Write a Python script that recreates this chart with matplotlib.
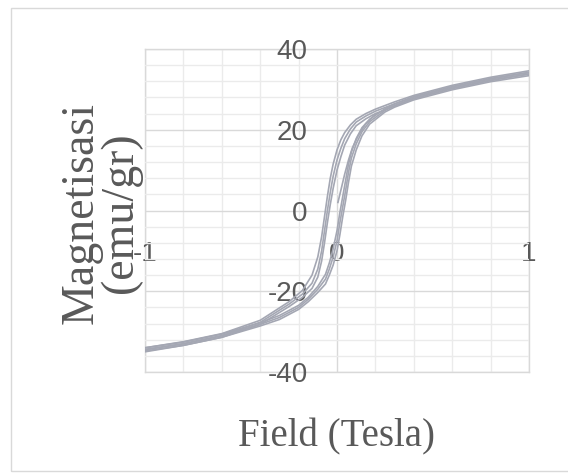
import numpy as np
import matplotlib.pyplot as plt
from matplotlib.patches import Rectangle
from matplotlib.ticker import MultipleLocator

# field grid for the descending branch (1 T -> -1 T)
field_down = [1.0, 0.8, 0.6, 0.4, 0.3, 0.2, 0.15, 0.1, 0.07, 0.04, 0.02, 0.0, -0.02,
              -0.035, -0.05, -0.065, -0.08, -0.1, -0.13, -0.18, -0.25, -0.4, -0.6, -0.8, -1.0]
mag_down_1 = [34.6, 33.0, 31.0, 28.5, 26.9, 25.1, 24.0, 22.6, 21.2, 19.3, 17.5, 15.0, 11.5,
              8.0, 3.5, -1.5, -6.5, -11.5, -16.0, -19.8, -22.6, -27.2, -30.5, -32.5, -34.0]
mag_down_2 = [34.2, 32.6, 30.6, 28.1, 26.4, 24.6, 23.4, 21.9, 20.2, 17.8, 15.4, 12.5, 8.5,
              4.5, 0.0, -5.0, -10.0, -14.5, -18.0, -20.7, -23.2, -27.7, -31.0, -33.0, -34.4]
mag_down_3 = [33.8, 32.2, 30.2, 27.7, 25.9, 24.0, 22.7, 21.0, 19.0, 16.2, 13.3, 10.0, 5.5,
              1.5, -3.0, -8.0, -12.5, -16.5, -19.3, -21.5, -23.8, -28.2, -31.4, -33.4, -34.8]

# field grid for the ascending branch (-1 T -> 1 T)
field_up = [-1.0, -0.8, -0.6, -0.4, -0.3, -0.2, -0.15, -0.1, -0.06, -0.04, -0.02, 0.0, 0.015,
            0.03, 0.045, 0.06, 0.075, 0.1, 0.13, 0.17, 0.25, 0.3, 0.4, 0.6, 0.8, 1.0]
mag_up_1 = [-34.0, -32.6, -30.6, -27.8, -26.0, -23.5, -21.5, -18.8, -15.8, -13.0, -9.5, -5.0, -0.5,
            3.5, 7.5, 11.5, 14.5, 17.8, 20.5, 22.6, 25.2, 26.4, 28.2, 30.7, 32.7, 34.2]
mag_up_2 = [-34.5, -33.0, -31.0, -28.2, -26.5, -24.0, -22.0, -19.5, -17.0, -14.5, -11.5, -7.5, -3.0,
            1.0, 5.0, 9.5, 13.0, 16.5, 19.5, 22.0, 24.8, 26.0, 27.8, 30.3, 32.3, 33.8]
mag_up_3 = [-35.0, -33.4, -31.4, -28.6, -27.0, -24.5, -22.6, -20.3, -18.2, -16.0, -13.5, -10.0, -6.0,
            -1.5, 2.5, 7.0, 11.0, 15.0, 18.5, 21.4, 24.4, 25.6, 27.4, 29.9, 31.9, 33.4]

# initial (virgin) magnetisation curve
field_init = [0.005, 0.02, 0.04, 0.06, 0.08, 0.11, 0.15, 0.2]
mag_init = [2.0, 5.0, 9.0, 12.5, 15.5, 18.5, 21.5, 23.8]

x_ticks = [-1, 0, 1]
y_ticks = [-40, -20, 0, 20, 40]

line_color = '#a4a7b3'
text_color = '#595959'

fig = plt.figure(figsize=(5.68, 4.73), dpi=100)
ax = fig.add_axes([145 / 568, 1 - 372 / 473, 384 / 568, 323 / 473])

for m in [mag_down_1, mag_down_2, mag_down_3]:
    ax.plot(field_down, m, color=line_color, lw=1.2)
for m in [mag_up_1, mag_up_2, mag_up_3]:
    ax.plot(field_up, m, color=line_color, lw=1.2)
ax.plot(field_init, mag_init, color=line_color, lw=1.2)

ax.set_xlim(-1, 1)
ax.set_ylim(-40, 40)

# excel style grid
ax.xaxis.set_minor_locator(MultipleLocator(0.2))
ax.yaxis.set_minor_locator(MultipleLocator(4))
ax.grid(which='minor', color='#ebebeb', lw=1.0)
ax.grid(which='major', color='#d9d9d9', lw=1.0)
ax.set_axisbelow(True)

# axes cross at the origin
for s in ['top', 'right']:
    ax.spines[s].set_visible(False)
ax.spines['left'].set_position(('data', 0))
ax.spines['bottom'].set_position(('data', 0))
ax.spines['left'].set_visible(False)
ax.spines['bottom'].set_visible(False)

ax.set_xticks(x_ticks)
ax.set_xticklabels(['-1', '0', '1'])
ax.set_yticks(y_ticks)
ax.set_yticklabels(['-40', '-20', '0', '20', '40'])
ax.tick_params(which='both', length=0)
ax.tick_params(axis='y', pad=21, labelsize=20, labelcolor=text_color)
ax.tick_params(axis='x', pad=22, labelsize=20, labelcolor=text_color)
for lab in ax.get_xticklabels() + ax.get_yticklabels():
    lab.set_fontfamily('Liberation Sans')

# outer gridline box edges
ax.plot([-1, 1], [40, 40], color='#d9d9d9', lw=1.0, clip_on=False, zorder=0)
ax.plot([-1, 1], [-40, -40], color='#d9d9d9', lw=1.0, clip_on=False, zorder=0)
ax.plot([-1, -1], [-40, 40], color='#d9d9d9', lw=1.0, clip_on=False, zorder=0)
ax.plot([1, 1], [-40, 40], color='#d9d9d9', lw=1.0, clip_on=False, zorder=0)

fig.text(337 / 568, 1 - 437 / 473, 'Field (Tesla)', ha='center', va='center',
         fontsize=28, family='Liberation Serif', color=text_color)
fig.text(101 / 568, 1 - 213 / 473, 'Magnetisasi\n(emu/gr)', ha='center', va='center',
         rotation=90, fontsize=33, family='Liberation Serif', color=text_color,
         linespacing=0.92, multialignment='center')

# chart area border
fig.patches.append(Rectangle((11 / 568, 1 - 471 / 473), 1.0, 463 / 473,
                             transform=fig.transFigure, fill=False,
                             edgecolor='#d9d9d9', lw=1.0))

plt.savefig('out.png', dpi=100)
